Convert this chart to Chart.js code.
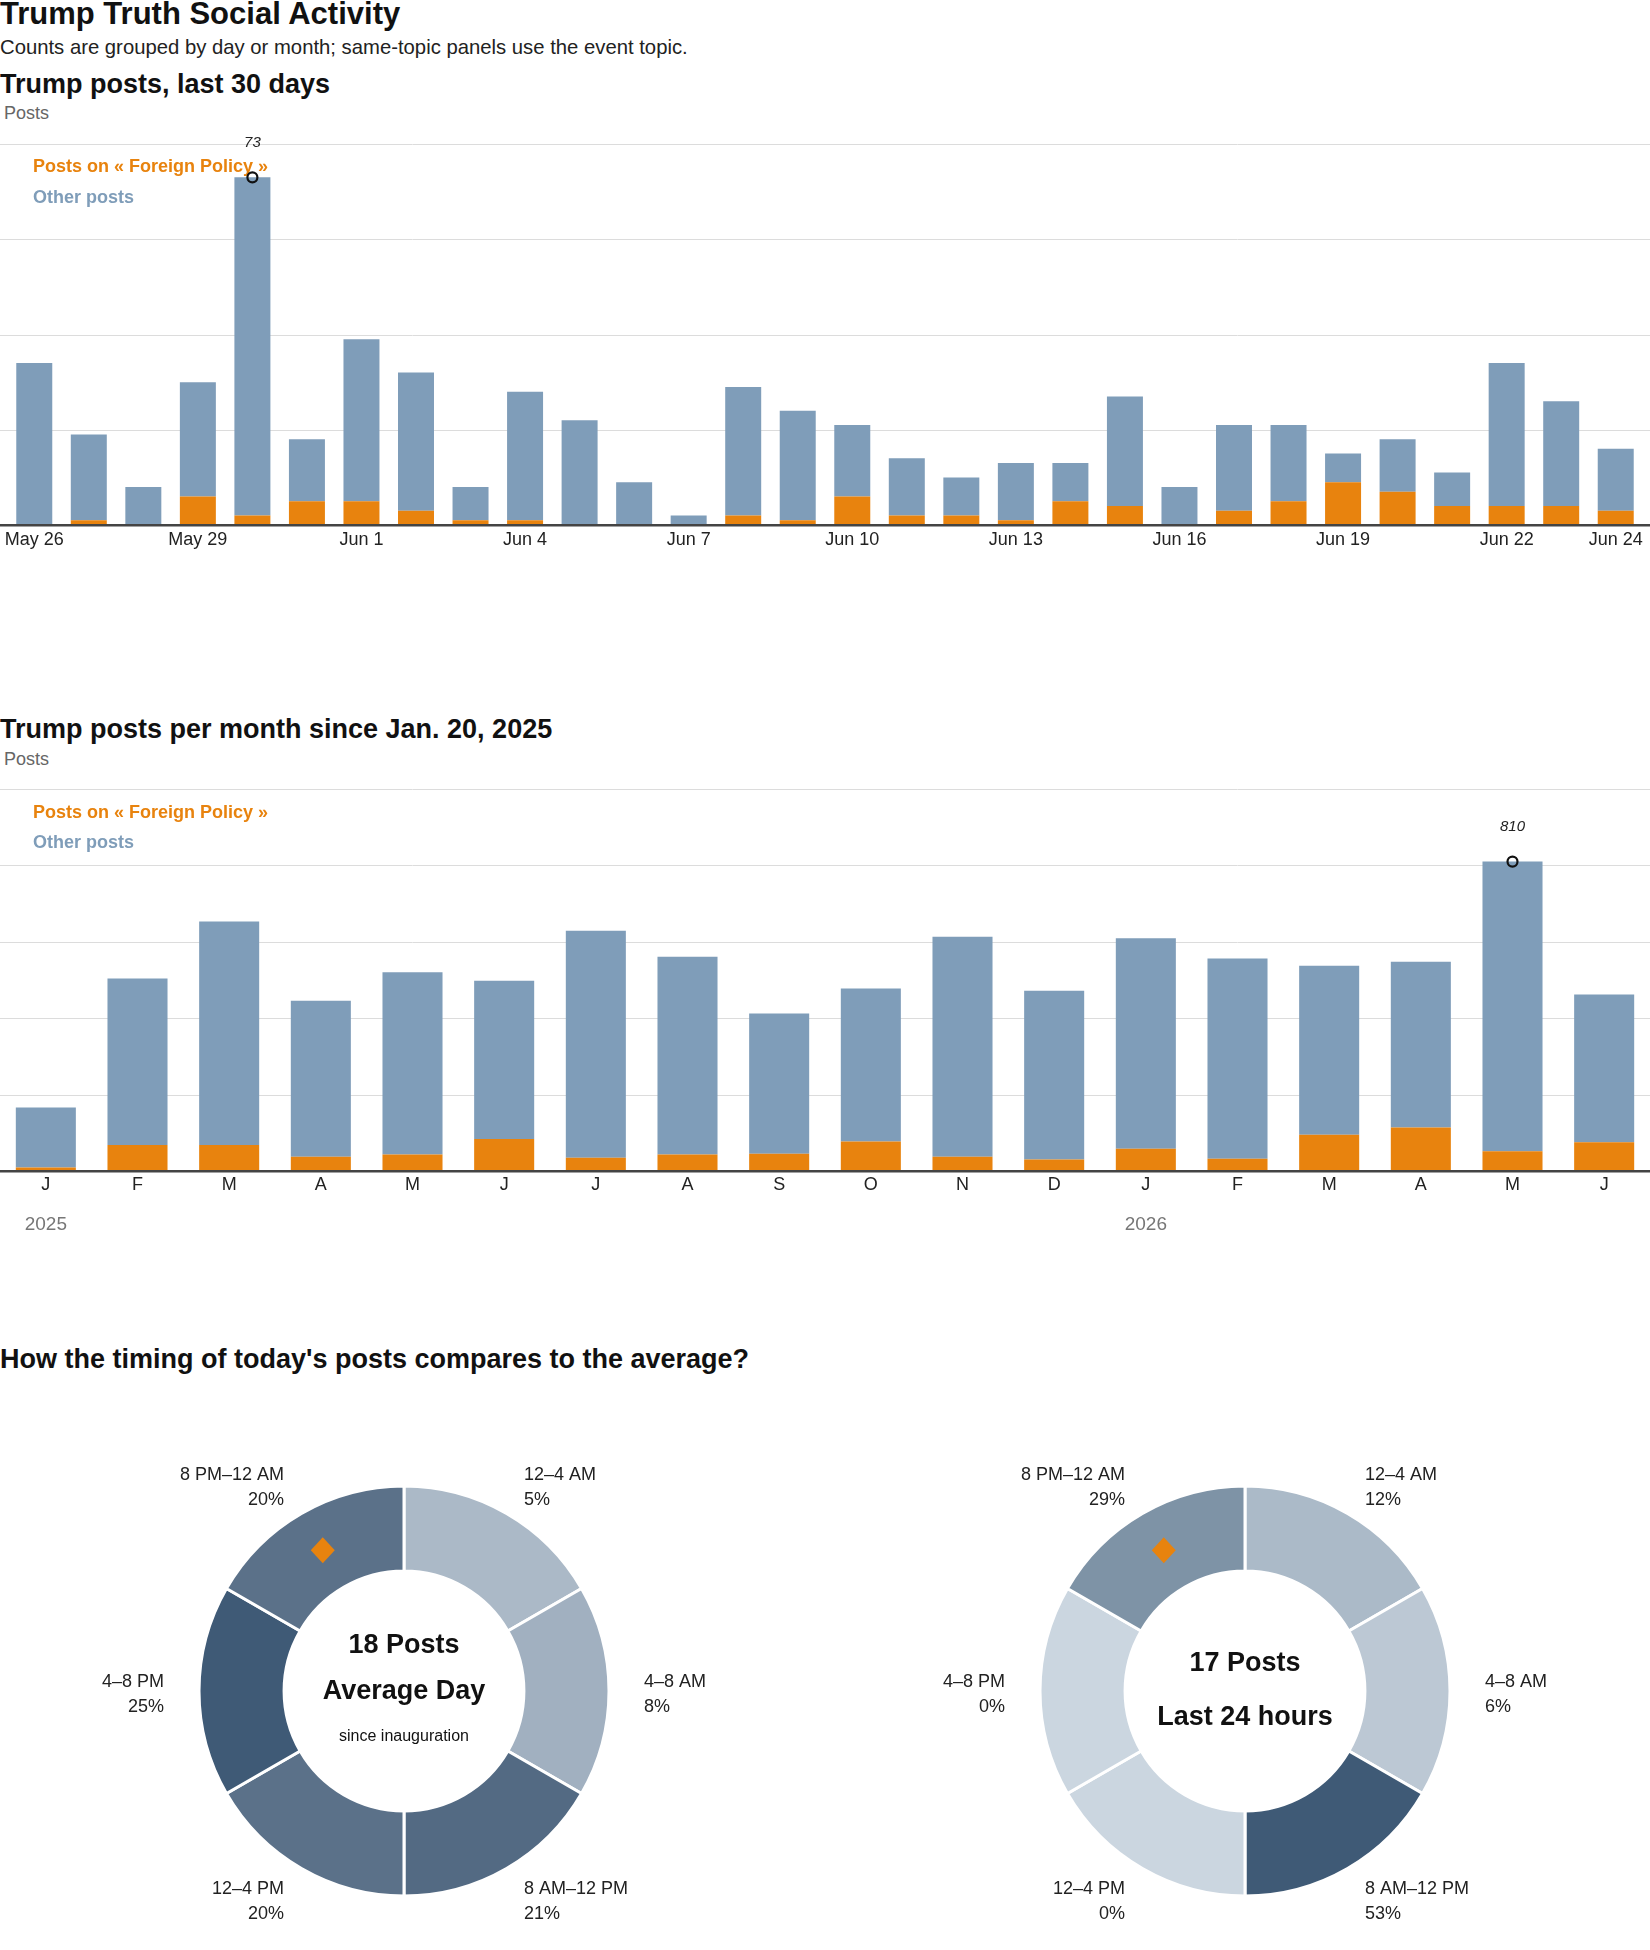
<!DOCTYPE html>
<html>
<head>
<meta charset="utf-8">
<script src="https://cdn.jsdelivr.net/npm/chart.js@4.4.1/dist/chart.umd.min.js"></script>
<style>
  body { margin: 0; background: #fff; width: 1650px; height: 1950px; position: relative; overflow: hidden;
         font-family: "Liberation Sans", Arial, sans-serif; color: #111; }
  .t { position: absolute; white-space: nowrap; line-height: 1; }
  .h1 { font-size: 31px; font-weight: bold; left: 0; }
  .h2 { font-size: 27px; font-weight: bold; left: 0; }
  .sub { font-size: 20.3px; color: #222; left: 0; }
  .unit { font-size: 18px; color: #666; left: 4px; }
  canvas { position: absolute; }
</style>
</head>
<body>
<div class="t h1" style="top:-2px">Trump Truth Social Activity</div>
<div class="t sub" style="top:37px">Counts are grouped by day or month; same-topic panels use the event topic.</div>
<div class="t h2" style="top:71px">Trump posts, last 30 days</div>
<div class="t unit" style="top:104px">Posts</div>
<canvas id="daily" width="1650" height="440" style="left:0;top:120px"></canvas>

<div class="t h2" style="top:716px">Trump posts per month since Jan. 20, 2025</div>
<div class="t unit" style="top:750px">Posts</div>
<canvas id="monthly" width="1650" height="480" style="left:0;top:760px"></canvas>

<div class="t h2" style="top:1346px">How the timing of today's posts compares to the average?</div>
<canvas id="avgDay" width="825" height="530" style="left:0;top:1420px"></canvas>
<canvas id="lastDay" width="825" height="530" style="left:825px;top:1420px"></canvas>

<script>
// ---- data ----
const days = ['May 26', 'May 27', 'May 28', 'May 29', 'May 30', 'May 31',
  'Jun 1', 'Jun 2', 'Jun 3', 'Jun 4', 'Jun 5', 'Jun 6', 'Jun 7', 'Jun 8', 'Jun 9', 'Jun 10',
  'Jun 11', 'Jun 12', 'Jun 13', 'Jun 14', 'Jun 15', 'Jun 16', 'Jun 17', 'Jun 18', 'Jun 19',
  'Jun 20', 'Jun 21', 'Jun 22', 'Jun 23', 'Jun 24'];
const dayTicks = ['May 26', 'May 29', 'Jun 1', 'Jun 4', 'Jun 7', 'Jun 10', 'Jun 13',
  'Jun 16', 'Jun 19', 'Jun 22', 'Jun 24'];
const foreignDaily = [0, 1, 0, 6, 2, 5, 5, 3, 1, 1, 0, 0, 0, 2, 1, 6, 2, 2, 1, 5,
  4, 0, 3, 5, 9, 7, 4, 4, 4, 3];
const otherDaily = [34, 18, 8, 24, 71, 13, 34, 29, 7, 27, 22, 9, 2, 27, 23, 15, 12, 8, 12, 8,
  23, 8, 18, 16, 6, 11, 7, 30, 22, 13];

const months = ['J', 'F', 'M', 'A', 'M', 'J', 'J', 'A', 'S', 'O', 'N', 'D',
  'J', 'F', 'M', 'A', 'M', 'J'];
const yearStarts = [0, 12];
const yearNames = ['2025', '2026'];
const foreignMonthly = [9, 68, 68, 37, 43, 84, 35, 43, 45, 77, 37, 30, 58, 32, 95, 114, 52, 75];
const otherMonthly = [157, 436, 585, 409, 477, 414, 594, 518, 367, 401, 576, 442, 551, 524, 442, 434, 758, 387];

const slots = ['12–4 AM', '4–8 AM', '8 AM–12 PM', '12–4 PM', '4–8 PM', '8 PM–12 AM'];
const slotHours = [4, 4, 4, 4, 4, 4];
const avgShare = [5, 8, 21, 20, 25, 20];
const todayShare = [12, 6, 53, 0, 0, 29];
const avgPosts = 18;
const todayPosts = 17;
const currentSlot = 5;

// ---- styles ----
const BLUE = '#7f9db9';
const ORANGE = '#e8830e';
const FONT = '"Liberation Sans", Arial, sans-serif';
const avgColors = ['#abb9c7', '#a1b0c0', '#536a83', '#5b7189', '#3f5a76', '#5b7189'];
const todayColors = ['#abbac8', '#bcc8d4', '#3f5a76', '#cbd6e0', '#cbd6e0', '#7e93a6'];

Chart.defaults.font.family = FONT;

const barExtras = {
  id: 'barExtras',
  beforeDatasetsDraw(chart) {
    const { ctx, width } = chart;
    const y = chart.scales.y;
    ctx.save();
    ctx.strokeStyle = '#dcdcdc';
    ctx.lineWidth = 1;
    y.ticks.forEach(t => {
      if (t.value === 0) return;
      const py = Math.round(y.getPixelForValue(t.value)) + 0.5;
      ctx.beginPath();
      ctx.moveTo(0, py);
      ctx.lineTo(width, py);
      ctx.stroke();
    });
    ctx.restore();
  },
  afterDatasetsDraw(chart, args, opts) {
    const { ctx, width } = chart;
    const x = chart.scales.x, y = chart.scales.y;
    const ds = chart.data.datasets;
    ctx.save();

    // baseline
    ctx.fillStyle = '#444';
    ctx.fillRect(0, y.getPixelForValue(0) - 1, width, 2.5);

    // legend as coloured text
    ctx.font = 'bold 18px ' + FONT;
    ctx.textAlign = 'left';
    ctx.textBaseline = 'middle';
    ds.forEach((d, i) => {
      ctx.fillStyle = d.backgroundColor;
      ctx.fillText(d.label, opts.legendX, opts.legendY + i * opts.legendGap);
    });

    // peak marker
    const totals = ds[0].data.map((v, i) => v + ds[1].data[i]);
    const imax = totals.indexOf(Math.max(...totals));
    const bar = chart.getDatasetMeta(1).data[imax];
    ctx.beginPath();
    ctx.arc(bar.x, bar.y, 5, 0, Math.PI * 2);
    ctx.lineWidth = 2.2;
    ctx.strokeStyle = '#111';
    ctx.stroke();
    ctx.font = 'italic 15px ' + FONT;
    ctx.fillStyle = '#222';
    ctx.textAlign = 'center';
    ctx.fillText(String(totals[imax]), bar.x, bar.y - 35);

    // year labels
    if (opts.years) {
      ctx.font = '19px ' + FONT;
      ctx.fillStyle = '#777';
      opts.years.idx.forEach((idx, k) => {
        ctx.fillText(opts.years.names[k], x.getPixelForValue(idx), opts.years.y);
      });
    }
    ctx.restore();
  }
};

function barChart(id, labels, foreign, other, o) {
  return new Chart(document.getElementById(id), {
    type: 'bar',
    data: {
      labels: labels,
      datasets: [
        { label: 'Posts on « Foreign Policy »', data: foreign, backgroundColor: ORANGE },
        { label: 'Other posts', data: other, backgroundColor: BLUE }
      ]
    },
    options: {
      responsive: false,
      animation: false,
      layout: { padding: { left: o.side, right: o.side, top: o.top, bottom: 0 } },
      datasets: { bar: { barPercentage: o.barPct, categoryPercentage: 1 } },
      plugins: {
        legend: { display: false },
        tooltip: { enabled: false },
        barExtras: { legendX: 33, legendY: o.legendY, legendGap: o.legendGap, years: o.years }
      },
      scales: {
        x: {
          stacked: true,
          grid: { display: false, drawTicks: false },
          border: { display: false },
          ticks: {
            autoSkip: false, maxRotation: 0, padding: o.tickPad, color: '#222',
            font: { size: 18 },
            callback: o.tickCb
          },
          afterFit(s) { s.height = o.axisH; }
        },
        y: {
          stacked: true,
          min: 0, max: o.max,
          ticks: { stepSize: o.step, display: false },
          grid: { display: false },
          border: { display: false },
          afterFit(s) { s.width = 0; }
        }
      }
    },
    plugins: [barExtras]
  });
}

barChart('daily', days, foreignDaily, otherDaily, {
  side: 7, top: 24, barPct: 0.66, max: 80, step: 20, axisH: 35, tickPad: 4,
  legendY: 47.5, legendGap: 31,
  tickCb: (v, i) => dayTicks.includes(days[i]) ? days[i] : ''
});

barChart('monthly', months, foreignMonthly, otherMonthly, {
  side: 0, top: 29, barPct: 0.655, max: 1000, step: 200, axisH: 69, tickPad: 3,
  legendY: 53, legendGap: 30.5,
  tickCb: (v, i) => months[i],
  years: { idx: yearStarts, names: yearNames, y: 465 }
});

const donutText = {
  id: 'donutText',
  afterDraw(chart, args, opts) {
    const { ctx } = chart;
    const arcs = chart.getDatasetMeta(0).data;
    const cx = arcs[0].x, cy = arcs[0].y;
    ctx.save();

    // slot labels outside the ring
    ctx.font = '18px ' + FONT;
    ctx.fillStyle = '#222';
    ctx.textBaseline = 'middle';
    arcs.forEach((a, i) => {
      const mid = (a.startAngle + a.endAngle) / 2;
      const lx = cx + Math.cos(mid) * opts.labelR;
      const ly = cy + Math.sin(mid) * (opts.labelR - 1) + 3.5;
      ctx.textAlign = Math.cos(mid) > 0.01 ? 'left' : 'right';
      ctx.fillText(slots[i], lx, ly - 12.5);
      ctx.fillText(opts.shares[i] + '%', lx, ly + 12.5);
    });

    // current slot marker
    const p = arcs[opts.marker].getCenterPoint();
    ctx.fillStyle = ORANGE;
    ctx.beginPath();
    ctx.moveTo(p.x, p.y - 13);
    ctx.lineTo(p.x + 12, p.y);
    ctx.lineTo(p.x, p.y + 13);
    ctx.lineTo(p.x - 12, p.y);
    ctx.closePath();
    ctx.fill();

    // centre text
    ctx.textAlign = 'center';
    ctx.fillStyle = '#111';
    opts.lines.forEach(l => {
      ctx.font = l.font + ' ' + FONT;
      ctx.fillText(l.text, cx, cy + l.dy);
    });
    ctx.restore();
  }
};

function donut(id, shares, colors, lines, padLeft, padRight) {
  return new Chart(document.getElementById(id), {
    type: 'doughnut',
    data: {
      labels: slots,
      datasets: [{ data: slotHours, backgroundColor: colors, borderColor: '#fff', borderWidth: 3 }]
    },
    options: {
      responsive: false,
      animation: false,
      cutout: '58.5%',
      layout: { padding: { left: padLeft, right: padRight, top: 64.5, bottom: 52.5 } },
      plugins: {
        legend: { display: false },
        tooltip: { enabled: false },
        donutText: { shares: shares, lines: lines, labelR: 240, marker: currentSlot }
      }
    },
    plugins: [donutText]
  });
}

donut('avgDay', avgShare, avgColors, [
  { text: avgPosts + ' Posts', font: 'bold 27px', dy: -45 },
  { text: 'Average Day', font: 'bold 27px', dy: 1 },
  { text: 'since inauguration', font: '16px', dy: 46 }
], 197.5, 214.5);

donut('lastDay', todayShare, todayColors, [
  { text: todayPosts + ' Posts', font: 'bold 27px', dy: -27.5 },
  { text: 'Last 24 hours', font: 'bold 27px', dy: 27 }
], 213.5, 198.5);
</script>
</body>
</html>
